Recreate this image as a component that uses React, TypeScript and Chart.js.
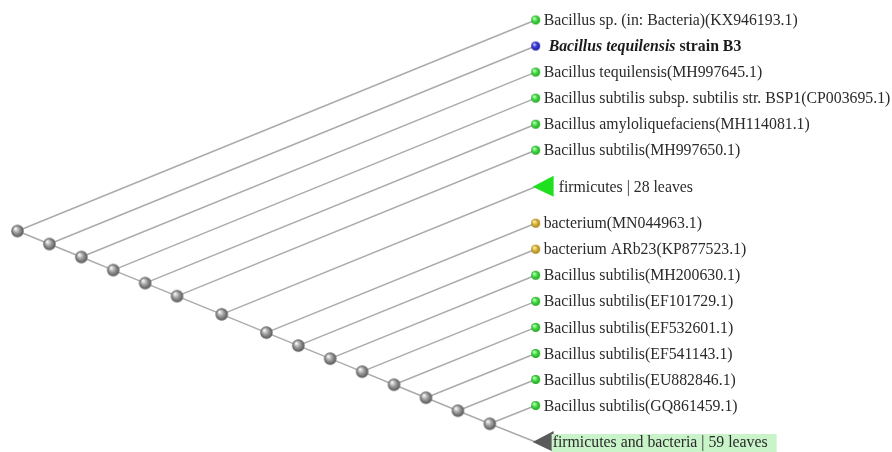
import React, { useEffect, useRef } from "react";
import { Chart, registerables } from "chart.js";

Chart.register(...registerables);

// ---- data ----
const leafLabels = [
  "Bacillus sp. (in: Bacteria)(KX946193.1)",
  "Bacillus tequilensis strain B3",
  "Bacillus tequilensis(MH997645.1)",
  "Bacillus subtilis subsp. subtilis str. BSP1(CP003695.1)",
  "Bacillus amyloliquefaciens(MH114081.1)",
  "Bacillus subtilis(MH997650.1)",
  "firmicutes | 28 leaves",
  "bacterium(MN044963.1)",
  "bacterium ARb23(KP877523.1)",
  "Bacillus subtilis(MH200630.1)",
  "Bacillus subtilis(EF101729.1)",
  "Bacillus subtilis(EF532601.1)",
  "Bacillus subtilis(EF541143.1)",
  "Bacillus subtilis(EU882846.1)",
  "Bacillus subtilis(GQ861459.1)",
  "firmicutes and bacteria | 59 leaves",
];
const leafKinds = [
  "bacillus", "query", "bacillus", "bacillus", "bacillus", "bacillus",
  "cladeFirmicutes", "bacterium", "bacterium", "bacillus", "bacillus",
  "bacillus", "bacillus", "bacillus", "bacillus", "cladeMixed",
];
// tree topology by leaf index (Newick)
const newick = "(0,(1,(2,(3,(4,(5,(6,(7,(8,(9,(10,(11,(12,(13,(14,15)))))))))))))))";

// ---- layout constants (style) ----
const PX_PER_UNIT = 26.05;
const ROW_GAP = 1;
const CLADE_GAP = 1.4;
const SLANT = 2.45;
const TIP_X = 19.89;
const FONT_PX = 15.8;

const kindColors: Record<string, [string, string, string]> = {
  bacillus: ["#c8ffc8", "#44e044", "#1ea01e"],
  query: ["#c8c8ff", "#3a3ae0", "#1a1a90"],
  bacterium: ["#fff0b0", "#dcb840", "#a07c10"],
};

type TNode = { leaf?: number; children?: TNode[]; x?: number; y?: number; lo?: number; hi?: number };

function parseNewick(s: string): TNode {
  let i = 0;
  function node(): TNode {
    if (s[i] === "(") {
      i++;
      const ch: TNode[] = [node()];
      while (s[i] === ",") { i++; ch.push(node()); }
      i++; // ')'
      return { children: ch };
    }
    let t = "";
    while (i < s.length && /[0-9]/.test(s[i])) t += s[i++];
    return { leaf: parseInt(t, 10) };
  }
  return node();
}

function isClade(k: string) { return k.startsWith("clade"); }

function sphere(r: number, cols: [string, string, string]) {
  const c = document.createElement("canvas");
  const s = Math.ceil(r * 2 + 2);
  c.width = s; c.height = s;
  const g = c.getContext("2d")!;
  const cx = s / 2, cy = s / 2;
  const grad = g.createRadialGradient(cx - r * 0.35, cy - r * 0.4, r * 0.1, cx, cy, r);
  grad.addColorStop(0, cols[0]);
  grad.addColorStop(0.45, cols[1]);
  grad.addColorStop(1, cols[2]);
  g.fillStyle = grad;
  g.beginPath(); g.arc(cx, cy, r, 0, Math.PI * 2); g.fill();
  return c;
}

export default function App() {
  const ref = useRef<HTMLCanvasElement>(null);
  useEffect(() => {
    // rows
    const rows: number[] = [];
    leafKinds.forEach((k, i) => {
      if (i === 0) rows.push(0);
      else {
        const gap = isClade(k) || isClade(leafKinds[i - 1]) ? CLADE_GAP : ROW_GAP;
        rows.push(rows[i - 1] + gap);
      }
    });
    const root = parseNewick(newick);
    function span(n: TNode): [number, number] {
      if (n.leaf !== undefined) { n.lo = n.hi = rows[n.leaf]; return [n.lo, n.hi]; }
      let lo = Infinity, hi = -Infinity;
      n.children!.forEach((c) => { const [a, b] = span(c); lo = Math.min(lo, a); hi = Math.max(hi, b); });
      n.lo = lo; n.hi = hi; return [lo, hi];
    }
    span(root);
    const rootMid = (root.lo! + root.hi!) / 2;
    const internal: { x: number; y: number }[] = [];
    const edges: { x: number; y: number }[][] = [];
    function place(n: TNode) {
      if (n.leaf !== undefined) { n.x = TIP_X; n.y = rows[n.leaf]; return; }
      n.y = (n.lo! + n.hi!) / 2;
      n.x = SLANT * (n.y - rootMid);
      internal.push({ x: n.x, y: n.y });
      n.children!.forEach((c) => { place(c); edges.push([{ x: n.x!, y: n.y! }, { x: c.x!, y: c.y! }]); });
    }
    place(root);

    const leafPoints = leafKinds.map((k, i) => ({ x: TIP_X, y: rows[i] })).filter((_, i) => !isClade(leafKinds[i]));
    const leafStyles = leafKinds.filter((k) => !isClade(k)).map((k) => sphere(4.5, kindColors[k]));
    const nodeImg = sphere(6.2, ["#f4f4f4", "#a0a0a0", "#555555"]);

    const W = 892, H = 452;
    const yMin = -20 / PX_PER_UNIT;
    const xMin = -17.5 / PX_PER_UNIT;

    const labelPlugin = {
      id: "treeLabels",
      afterDatasetsDraw(chart: any) {
        const ctx = chart.ctx;
        const xs = chart.scales.x, ys = chart.scales.y;
        ctx.save();
        ctx.textBaseline = "middle";
        const font = `${FONT_PX}px 'Liberation Serif', 'Times New Roman', serif`;
        leafLabels.forEach((lab, i) => {
          const k = leafKinds[i];
          const px = xs.getPixelForValue(TIP_X);
          const py = ys.getPixelForValue(rows[i]);
          if (isClade(k)) {
            ctx.fillStyle = k === "cladeFirmicutes" ? "#1fe01f" : "#5a5a5a";
            ctx.beginPath();
            ctx.moveTo(px - 3, py);
            ctx.lineTo(px + 18, py - 11);
            ctx.lineTo(px + 18, py + 10);
            ctx.closePath();
            ctx.fill();
            ctx.font = font;
            const tx = k === "cladeFirmicutes" ? px + 23 : px + 17;
            if (k === "cladeMixed") {
              const w = ctx.measureText(lab).width;
              ctx.fillStyle = "#c9f3c9";
              ctx.fillRect(tx - 1, py - 8, w + 10, 20);
            }
            ctx.fillStyle = "#2a2a2a";
            ctx.fillText(lab, tx, py + 1);
          } else if (k === "query") {
            const parts = lab.split(" strain ");
            let tx = px + 13;
            ctx.fillStyle = "#1a1a1a";
            ctx.font = `italic bold ${FONT_PX}px 'Liberation Serif', serif`;
            ctx.fillText(parts[0], tx, py + 1);
            tx += ctx.measureText(parts[0]).width;
            ctx.font = `bold ${FONT_PX}px 'Liberation Serif', serif`;
            ctx.fillText(" strain " + parts[1], tx, py + 1);
          } else {
            ctx.fillStyle = "#2a2a2a";
            ctx.font = font;
            ctx.fillText(lab, px + 8, py + 1);
          }
        });
        ctx.restore();
      },
    };

    const datasets: any[] = edges.map((e) => ({
      type: "scatter",
      data: e,
      showLine: true,
      borderColor: "#ababab",
      borderWidth: 1.5,
      pointRadius: 0,
      clip: false,
      order: 3,
    }));
    datasets.push({
      type: "scatter",
      data: internal,
      pointStyle: nodeImg,
      pointRadius: 6,
      clip: false,
      order: 1,
    });
    datasets.push({
      type: "scatter",
      data: leafPoints,
      pointStyle: leafStyles,
      pointRadius: 4.5,
      clip: false,
      order: 0,
    });

    const chart = new Chart(ref.current!, {
      type: "scatter",
      data: { datasets },
      options: {
        animation: false,
        responsive: false,
        maintainAspectRatio: false,
        layout: { padding: 0, autoPadding: false },
        plugins: { legend: { display: false }, tooltip: { enabled: false } },
        scales: {
          x: { type: "linear", display: false, min: xMin, max: xMin + W / PX_PER_UNIT },
          y: { type: "linear", display: false, reverse: true, min: yMin, max: yMin + H / PX_PER_UNIT },
        },
      },
      plugins: [labelPlugin],
    });
    return () => chart.destroy();
  }, []);
  return (
    <div style={{ position: "fixed", left: 0, top: 0, width: 892, height: 452, background: "#fff" }}>
      <canvas ref={ref} width={892} height={452} style={{ display: "block" }} />
    </div>
  );
}
